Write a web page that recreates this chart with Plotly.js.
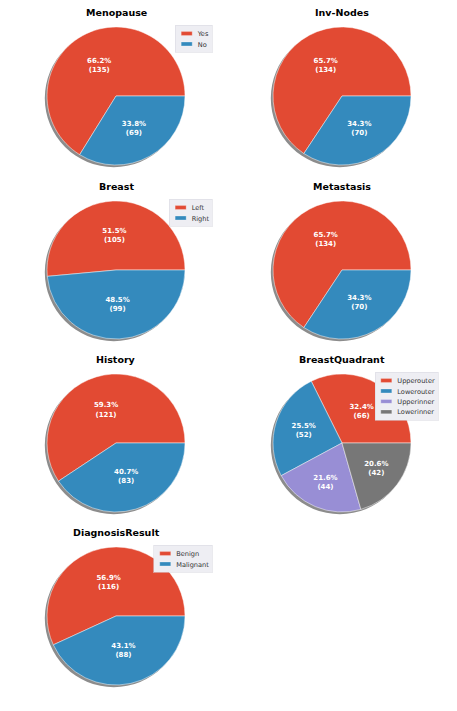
<!DOCTYPE html>
<html>
<head>
<meta charset="utf-8">
<script src="https://cdn.plot.ly/plotly-3.0.1.min.js"></script>
<style>
html,body{margin:0;padding:0;background:#fff;}
#chart{width:457px;height:711px;}
</style>
</head>
<body>
<div id="chart"></div>
<script>
// ---- data ----
const titles = ['Menopause', 'Inv-Nodes', 'Breast', 'Metastasis', 'History', 'BreastQuadrant', 'DiagnosisResult'];
const menopauseLabels = ['Yes', 'No'];
const menopauseValues = [135, 69];
const invNodesLabels = ['No', 'Yes'];
const invNodesValues = [134, 70];
const breastLabels = ['Left', 'Right'];
const breastValues = [105, 99];
const metastasisLabels = ['No', 'Yes'];
const metastasisValues = [134, 70];
const historyLabels = ['No', 'Yes'];
const historyValues = [121, 83];
const quadrantLabels = ['Upperouter', 'Lowerouter', 'Upperinner', 'Lowerinner'];
const quadrantValues = [66, 52, 44, 42];
const diagnosisLabels = ['Benign', 'Malignant'];
const diagnosisValues = [116, 88];

const groups = [
  [menopauseLabels, menopauseValues],
  [invNodesLabels, invNodesValues],
  [breastLabels, breastValues],
  [metastasisLabels, metastasisValues],
  [historyLabels, historyValues],
  [quadrantLabels, quadrantValues],
  [diagnosisLabels, diagnosisValues]
];

const colors = ['#E24A33', '#348ABD', '#988ED5', '#777777'];

// ---- layout geometry (pixels) ----
const W = 457, H = 711;
const colX = [116, 342];
const rowY = [96, 270, 443, 616];
const R = 69;

const traces = [];
const annotations = [];
const shapes = [];
const layout = {
  width: W, height: H,
  margin: {l: 0, r: 0, t: 0, b: 0},
  paper_bgcolor: '#ffffff',
  font: {family: 'DejaVu Sans, sans-serif', color: '#222'},
  showlegend: true,
  annotations: annotations,
  shapes: shapes
};
const legendTargets = [];

groups.forEach((g, i) => {
  const cx = colX[i % 2], cy = rowY[Math.floor(i / 2)];
  const x0 = (cx - R) / W, x1 = (cx + R) / W;
  const y0 = 1 - (cy + R) / H, y1 = 1 - (cy - R) / H;
  const legName = i === 0 ? 'legend' : 'legend' + (i + 1);
  const total = g[1].reduce((a, b) => a + b, 0);
  // Plotly (counterclockwise) places the first slice clockwise of the rotation line;
  // shift so that the first slice starts at 3 o'clock and runs counterclockwise.
  const rot = 90 - 360 * g[1][0] / total;
  traces.push({
    type: 'pie',
    labels: g[0],
    values: g[1],
    sort: false,
    direction: 'counterclockwise',
    rotation: rot,
    domain: {x: [x0, x1], y: [y0, y1]},
    marker: {colors: colors.slice(0, g[0].length), line: {color: 'rgba(255,255,255,0.8)', width: 0.6}},
    texttemplate: '<b>%{percent:.1%}<br>(%{value})</b>',
    textposition: 'inside',
    insidetextorientation: 'horizontal',
    insidetextfont: {color: '#ffffff', size: 7, family: 'DejaVu Sans, sans-serif'},
    hoverinfo: 'label+value+percent',
    legend: legName,
    showlegend: true
  });
  // shadow (decorative)
  const off = 2.2;
  shapes.push({
    type: 'circle', xref: 'paper', yref: 'paper', layer: 'below',
    x0: (cx - R - off) / W, x1: (cx + R - off) / W,
    y0: 1 - (cy + R + off) / H, y1: 1 - (cy - R + off) / H,
    fillcolor: 'rgba(0,0,0,0.45)', line: {width: 0}
  });
  annotations.push({
    xref: 'paper', yref: 'paper',
    x: cx / W, y: 1 - (cy - R - 7) / H,
    xanchor: 'center', yanchor: 'bottom',
    text: '<b>' + titles[i] + '</b>',
    showarrow: false,
    font: {size: 9.5, color: '#000', family: 'DejaVu Sans, sans-serif'}
  });
  layout[legName] = {
    x: (cx + R + 27) / W, y: 1 - (cy - R - 2) / H,
    xanchor: 'right', yanchor: 'top',
    bgcolor: '#EEEEF3', bordercolor: '#D8D8E0', borderwidth: 1,
    font: {size: 12, color: '#333', family: 'DejaVu Sans, sans-serif'},
    traceorder: 'normal'
  };
  legendTargets.push({cls: legName, right: cx + R + 27, top: cy - R - 2});
});

Plotly.newPlot('chart', traces, layout, {displayModeBar: false, staticPlot: true}).then(() => {
  const s = 0.55;
  legendTargets.forEach(t => {
    const g = document.querySelector('g.' + t.cls);
    if (!g) return;
    g.querySelectorAll('path.legendpie').forEach(p => p.setAttribute('d', 'M-10,-3.5H10V3.5H-10Z'));
    const bg = g.querySelector('rect.bg');
    const w = bg ? parseFloat(bg.getAttribute('width')) : g.getBBox().width;
    g.setAttribute('transform', 'translate(' + (t.right - w * s) + ',' + t.top + ') scale(' + s + ')');
  });
});
</script>
</body>
</html>
